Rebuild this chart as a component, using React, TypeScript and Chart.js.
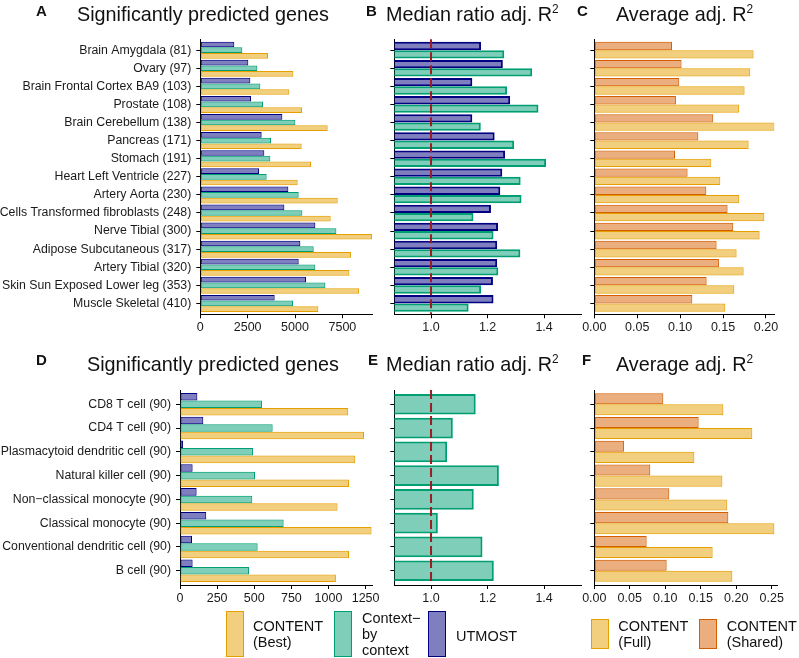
import React, { useEffect, useRef } from 'react';
import { Chart, registerables } from 'chart.js';

Chart.register(...registerables);

// ---------- data: GTEx tissues ----------
const tissues = [
  'Brain Amygdala (81)', 'Ovary (97)', 'Brain Frontal Cortex BA9 (103)', 'Prostate (108)',
  'Brain Cerebellum (138)', 'Pancreas (171)', 'Stomach (191)', 'Heart Left Ventricle (227)',
  'Artery Aorta (230)', 'Cells Transformed fibroblasts (248)', 'Nerve Tibial (300)',
  'Adipose Subcutaneous (317)', 'Artery Tibial (320)', 'Skin Sun Exposed Lower leg (353)',
  'Muscle Skeletal (410)',
];
const tissueGenesUtmost = [1796, 2535, 2641, 2676, 4331, 3239, 3380, 3099, 4648, 4437, 6074, 5282, 5194, 5581, 3926];
const tissueGenesContext = [2218, 3011, 3169, 3310, 5018, 3732, 3697, 3504, 5194, 5387, 7183, 5986, 6074, 6602, 4894];
const tissueGenesContent = [3574, 4912, 4701, 5370, 6725, 5352, 5845, 5141, 7254, 6884, 9067, 7958, 7870, 8380, 6232];
const tissueRatioUtmost = [1.177, 1.254, 1.146, 1.28, 1.146, 1.225, 1.262, 1.252, 1.245, 1.212, 1.237, 1.234, 1.234, 1.219, 1.221];
const tissueRatioContext = [1.259, 1.358, 1.269, 1.38, 1.176, 1.294, 1.407, 1.317, 1.32, 1.15, 1.221, 1.316, 1.238, 1.177, 1.133];
const tissueR2Shared = [0.0905, 0.1017, 0.099, 0.0951, 0.1386, 0.1212, 0.094, 0.1087, 0.1305, 0.1553, 0.1619, 0.1425, 0.1452, 0.1309, 0.1142];
const tissueR2Full = [0.1856, 0.1817, 0.1751, 0.1685, 0.2101, 0.1798, 0.1363, 0.1468, 0.1689, 0.1981, 0.1926, 0.1658, 0.174, 0.1631, 0.1526];

// ---------- data: single-cell types ----------
const cellTypes = [
  'CD8 T cell (90)', 'CD4 T cell (90)', 'Plasmacytoid dendritic cell (90)', 'Natural killer cell (90)',
  'Non\u2212classical monocyte (90)', 'Classical monocyte (90)', 'Conventional dendritic cell (90)', 'B cell (90)',
];
const cellGenesUtmost = [117, 157, 20, 85, 112, 177, 81, 85];
const cellGenesContext = [552, 624, 492, 505, 487, 698, 523, 465];
const cellGenesContent = [1133, 1239, 1180, 1138, 1061, 1290, 1138, 1050];
const cellRatioContext = [1.158, 1.077, 1.057, 1.24, 1.151, 1.024, 1.182, 1.222];
const cellR2Shared = [0.0973, 0.1471, 0.0418, 0.0789, 0.1057, 0.1889, 0.0738, 0.102];
const cellR2Full = [0.1819, 0.2227, 0.141, 0.1805, 0.1875, 0.2538, 0.1668, 0.1945];

// ---------- tick labels ----------
const ticksGenesTissue = [0, 2500, 5000, 7500];
const ticksRatio = [1.0, 1.2, 1.4];
const ticksR2Tissue = [0, 0.05, 0.1, 0.15, 0.2];
const ticksGenesCell = [0, 250, 500, 750, 1000, 1250];
const ticksR2Cell = [0, 0.05, 0.1, 0.15, 0.2, 0.25];
const ratioReference = 1.0;

// ---------- styles ----------
const FONT = '"Liberation Sans", Arial, Helvetica, sans-serif';
const C_BEST = { fill: 'rgba(230,159,0,0.5)', border: '#E69F00' };
const C_CTX = { fill: 'rgba(0,158,115,0.5)', border: '#009E73' };
const C_UTM = { fill: 'rgba(0,0,128,0.5)', border: '#000080' };
const C_SHR = { fill: 'rgba(213,94,0,0.5)', border: '#D55E00' };
const REF_COLOR = '#9E1B22';

const refLinePlugin = {
  id: 'refLine',
  afterDatasetsDraw(chart: any, _args: any, opts: any) {
    if (opts == null || opts.value == null) return;
    const { ctx, chartArea } = chart;
    const x = chart.scales.x.getPixelForValue(opts.value);
    ctx.save();
    ctx.strokeStyle = opts.color;
    ctx.lineWidth = 2;
    ctx.setLineDash([9, 4]);
    ctx.beginPath();
    ctx.moveTo(x, chartArea.top);
    ctx.lineTo(x, chartArea.bottom);
    ctx.stroke();
    ctx.restore();
  },
};

type Series = { label: string; values: number[]; fill: string; border: string };
type Spec = {
  canvas: { left: number; top: number; width: number; height: number };
  area: { l: number; t: number; r: number; b: number };
  cats: string[];
  showLabels: boolean;
  series: Series[];
  xMin: number;
  xMax: number;
  xTicks: number[];
  fmt: (v: number) => string;
  catPct: number;
  borderWidth: number;
  refLine?: number;
};

function Panel({ spec }: { spec: Spec }) {
  const ref = useRef<HTMLCanvasElement>(null);
  useEffect(() => {
    const c = spec.canvas;
    const a = spec.area;
    const n = spec.cats.length;
    const gridOpts = { display: true, offset: false, drawOnChartArea: false, drawTicks: true, tickLength: 4, color: '#000', lineWidth: 1 };
    const borderOpts = { display: true, color: '#000', width: 1 };
    const chart = new Chart(ref.current as HTMLCanvasElement, {
      type: 'bar',
      data: {
        datasets: spec.series.map((s) => ({
          label: s.label,
          data: s.values.map((v, i) => ({ x: v, y: i })),
          backgroundColor: s.fill,
          borderColor: s.border,
          borderWidth: spec.borderWidth,
          borderSkipped: false,
          categoryPercentage: spec.catPct,
          barPercentage: 1,
          clip: 0,
        })) as any,
      },
      options: {
        indexAxis: 'y',
        animation: false,
        responsive: false,
        events: [],
        layout: { padding: { left: 0, top: a.t - c.top, right: c.left + c.width - a.r, bottom: 0 } },
        plugins: {
          legend: { display: false },
          tooltip: { enabled: false },
          refLine: { value: spec.refLine, color: REF_COLOR },
        } as any,
        scales: {
          x: {
            type: 'linear',
            min: spec.xMin,
            max: spec.xMax,
            offset: false,
            z: 1,
            afterBuildTicks: (s: any) => { s.ticks = spec.xTicks.map((v) => ({ value: v })); },
            afterFit: (s: any) => { s.height = c.top + c.height - a.b; },
            ticks: {
              callback: (v: any) => spec.fmt(Number(v)),
              font: { family: FONT, size: 12.5 },
              color: '#1a1a1a',
              padding: 2,
              maxRotation: 0,
              autoSkip: false,
            },
            grid: gridOpts,
            border: borderOpts,
          },
          y: {
            type: 'linear',
            min: -0.6,
            max: n - 1 + 0.6,
            reverse: true,
            offset: false,
            z: 1,
            afterBuildTicks: (s: any) => { s.ticks = spec.cats.map((_, i) => ({ value: i })); },
            afterFit: (s: any) => { s.width = a.l - c.left; },
            ticks: {
              display: spec.showLabels,
              callback: (v: any) => spec.cats[Number(v)],
              font: { family: FONT, size: 12.3 },
              color: '#1a1a1a',
              padding: 5,
              autoSkip: false,
            },
            grid: gridOpts,
            border: borderOpts,
          },
        } as any,
      },
      plugins: [refLinePlugin],
    });
    return () => chart.destroy();
  }, []);
  const c = spec.canvas;
  return (
    <canvas
      ref={ref}
      width={c.width}
      height={c.height}
      style={{ position: 'absolute', left: c.left, top: c.top, width: c.width, height: c.height }}
    />
  );
}

const fmtInt = (v: number) => String(v);
const fmt1 = (v: number) => v.toFixed(1);
const fmt2 = (v: number) => v.toFixed(2);

const specs: Spec[] = [
  {
    canvas: { left: 0, top: 15, width: 386, height: 335 },
    area: { l: 200.3, t: 39.3, r: 372.7, b: 314.3 },
    cats: tissues, showLabels: true,
    series: [
      { label: 'UTMOST', values: tissueGenesUtmost, ...C_UTM },
      { label: 'Context-by context', values: tissueGenesContext, ...C_CTX },
      { label: 'CONTENT (Best)', values: tissueGenesContent, ...C_BEST },
    ],
    xMin: 0, xMax: 9100, xTicks: ticksGenesTissue, fmt: fmtInt, catPct: 0.94, borderWidth: 1,
  },
  {
    canvas: { left: 375, top: 15, width: 215, height: 335 },
    area: { l: 394.3, t: 39.3, r: 581.7, b: 314.3 },
    cats: tissues, showLabels: false,
    series: [
      { label: 'UTMOST', values: tissueRatioUtmost, ...C_UTM },
      { label: 'Context-by context', values: tissueRatioContext, ...C_CTX },
    ],
    xMin: 0.87, xMax: 1.533, xTicks: ticksRatio, fmt: fmt1, catPct: 0.92, borderWidth: 2, refLine: ratioReference,
  },
  {
    canvas: { left: 575, top: 15, width: 224, height: 335 },
    area: { l: 594.3, t: 39.3, r: 774.3, b: 314.3 },
    cats: tissues, showLabels: false,
    series: [
      { label: 'CONTENT (Shared)', values: tissueR2Shared, ...C_SHR },
      { label: 'CONTENT (Full)', values: tissueR2Full, ...C_BEST },
    ],
    xMin: 0, xMax: 0.2097, xTicks: ticksR2Tissue, fmt: fmt2, catPct: 0.92, borderWidth: 1,
  },
  {
    canvas: { left: 0, top: 365, width: 386, height: 255 },
    area: { l: 180, t: 390, r: 372.3, b: 585 },
    cats: cellTypes, showLabels: true,
    series: [
      { label: 'UTMOST', values: cellGenesUtmost, ...C_UTM },
      { label: 'Context-by context', values: cellGenesContext, ...C_CTX },
      { label: 'CONTENT (Best)', values: cellGenesContent, ...C_BEST },
    ],
    xMin: 0, xMax: 1295, xTicks: ticksGenesCell, fmt: fmtInt, catPct: 0.95, borderWidth: 1,
  },
  {
    canvas: { left: 375, top: 365, width: 215, height: 255 },
    area: { l: 394.3, t: 390, r: 581.7, b: 585 },
    cats: cellTypes, showLabels: false,
    series: [
      { label: 'Context-by context', values: cellRatioContext, ...C_CTX },
    ],
    xMin: 0.87, xMax: 1.533, xTicks: ticksRatio, fmt: fmt1, catPct: 0.87, borderWidth: 2, refLine: ratioReference,
  },
  {
    canvas: { left: 575, top: 365, width: 224, height: 255 },
    area: { l: 594.3, t: 390, r: 777.3, b: 585 },
    cats: cellTypes, showLabels: false,
    series: [
      { label: 'CONTENT (Shared)', values: cellR2Shared, ...C_SHR },
      { label: 'CONTENT (Full)', values: cellR2Full, ...C_BEST },
    ],
    xMin: 0, xMax: 0.2579, xTicks: ticksR2Cell, fmt: fmt2, catPct: 0.93, borderWidth: 1,
  },
];

const abs = (left: number, top: number, extra: any = {}): any => ({
  position: 'absolute', left, top, whiteSpace: 'nowrap', fontFamily: FONT, color: '#111', ...extra,
});

const titleStyle = { fontSize: 19.8, lineHeight: '19.8px' };
const letterStyle = { fontSize: 15, lineHeight: '15px', fontWeight: 'bold' };
const legendText = { fontSize: 14.5, lineHeight: '16px' };
const sup = <sup style={{ fontSize: '0.6em', verticalAlign: 'baseline', position: 'relative', top: '-0.65em' }}>2</sup>;

function Box({ left, top, w, h, c }: any) {
  return (
    <div style={{ position: 'absolute', left, top, width: w, height: h, boxSizing: 'border-box', background: c.fill, border: `1.5px solid ${c.border}` }} />
  );
}

export default function App() {
  return (
    <div style={{ position: 'absolute', left: 0, top: 0, width: 799, height: 658, background: '#fff', overflow: 'hidden' }}>
      {specs.map((s, i) => <Panel key={i} spec={s} />)}

      <div style={abs(36, 3, letterStyle)}>A</div>
      <div style={abs(77, 5, titleStyle)}>Significantly predicted genes</div>
      <div style={abs(366, 3, letterStyle)}>B</div>
      <div style={abs(386, 5, titleStyle)}>Median ratio adj. R{sup}</div>
      <div style={abs(577, 3, letterStyle)}>C</div>
      <div style={abs(616, 5, titleStyle)}>Average adj. R{sup}</div>

      <div style={abs(36, 352, letterStyle)}>D</div>
      <div style={abs(87, 354.5, titleStyle)}>Significantly predicted genes</div>
      <div style={abs(368, 352, letterStyle)}>E</div>
      <div style={abs(386, 354.5, titleStyle)}>Median ratio adj. R{sup}</div>
      <div style={abs(582, 352, letterStyle)}>F</div>
      <div style={abs(616, 354.5, titleStyle)}>Average adj. R{sup}</div>

      <Box left={226} top={611} w={17.5} h={46} c={C_BEST} />
      <div style={abs(253, 617.5, legendText)}>CONTENT<br />(Best)</div>
      <Box left={334} top={611} w={17.5} h={46} c={C_CTX} />
      <div style={abs(362, 609.5, legendText)}>Context{'\u2212'}<br />by<br />context</div>
      <Box left={428.3} top={611} w={17.5} h={46} c={C_UTM} />
      <div style={abs(456, 627.5, legendText)}>UTMOST</div>

      <Box left={590.7} top={619} w={18.3} h={30} c={C_BEST} />
      <div style={abs(618.3, 617.5, legendText)}>CONTENT<br />(Full)</div>
      <Box left={699.3} top={619} w={18} h={30} c={C_SHR} />
      <div style={abs(726.7, 617.5, legendText)}>CONTENT<br />(Shared)</div>
    </div>
  );
}
